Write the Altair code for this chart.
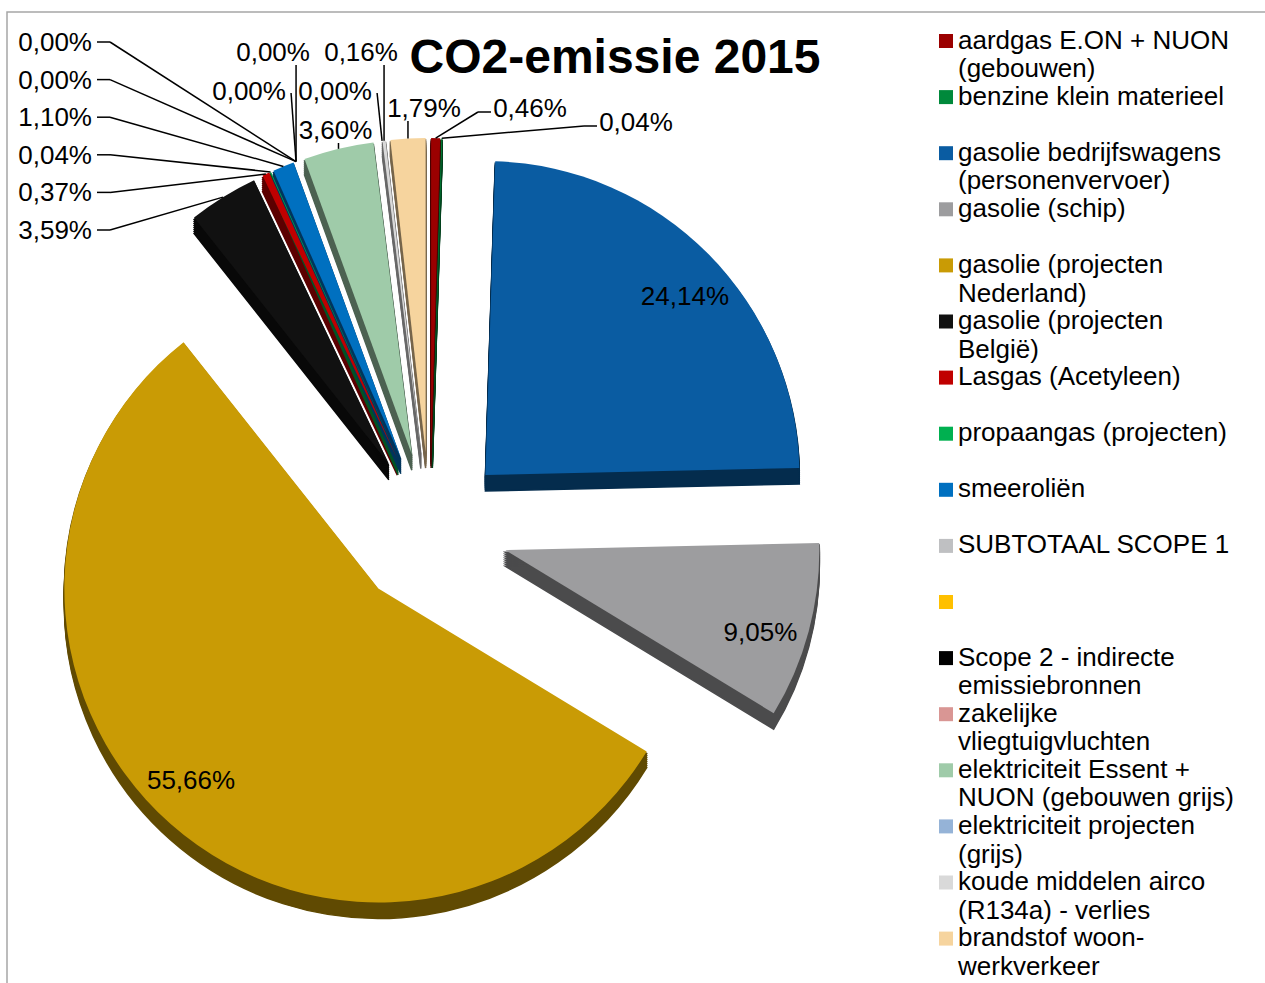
import math
import altair as alt
import pandas as pd

# ---------------- data ----------------
categories = [
    "aardgas E.ON + NUON\n(gebouwen)",
    "benzine klein materieel",
    "gasolie bedrijfswagens\n(personenvervoer)",
    "gasolie (schip)",
    "gasolie (projecten\nNederland)",
    "gasolie (projecten\nBelgië)",
    "Lasgas (Acetyleen)",
    "propaangas (projecten)",
    "smeeroliën",
    "SUBTOTAAL SCOPE 1",
    "",
    "Scope 2 - indirecte\nemissiebronnen",
    "zakelijke\nvliegtuigvluchten",
    "elektriciteit Essent +\nNUON (gebouwen grijs)",
    "elektriciteit projecten\n(grijs)",
    "koude middelen airco\n(R134a) - verlies",
    "brandstof woon-\nwerkverkeer",
]
shares = [0.46, 0.04, 24.14, 9.05, 55.66, 3.59, 0.37, 0.04, 1.10,
          0.00, 0.00, 0.00, 0.00, 3.60, 0.00, 0.16, 1.79]
palette = ["#9B0000", "#00893B", "#0A5CA2", "#9D9D9F", "#C99B05", "#111111",
           "#C00000", "#00B050", "#0070C0", "#BFC0C2", "#FFC000", "#000000",
           "#D99694", "#9FCBA9", "#95B3D7", "#D9D9D9", "#F6D49E"]
title_text = "CO2-emissie 2015"

# ---------------- layout / style ----------------
FONT = "Liberation Sans"
CX, CY = 430, 530      # pie centre (px)
D, R = 78, 314         # explosion distance, radius
DEPTH = 16             # 3-D thickness


def darker(h, f=0.48):
    r, g, b = (int(h[i:i + 2], 16) for i in (1, 3, 5))
    return "#{:02x}{:02x}{:02x}".format(int(r * f), int(g * f), int(b * f))


df = pd.DataFrame({
    "idx": list(range(len(categories))),
    "name": categories,
    "value": shares,
    "fill": palette,
    "dark": [darker(c) for c in palette],
})

base = alt.Chart(df).transform_window(
    cum="sum(value)", sort=[alt.SortField("idx")], frame=[None, 0]
).transform_calculate(
    start="datum.cum - datum.value",
    mid="(datum.cum - datum.value / 2) / 100 * 2 * PI",
    cx=f"{CX} + {D} * sin(datum.mid)",
    cy=f"{CY} - {D} * cos(datum.mid)",
    tx=f"{CX} + {D + R} * sin(datum.mid)",
    ty=f"{CY} - {D + R} * cos(datum.mid)",
    pct="replace(format(datum.value, '.2f'), '.', ',') + '%'",
)

TH = alt.Theta("start:Q", scale=alt.Scale(domain=[0, 100], range=[0, 2 * math.pi]))
TH2 = alt.Theta2("cum:Q")
XC = alt.X("cx:Q", scale=None, axis=None)

# 3-D side (stacked darker copies)
sides = []
for k in range(2, DEPTH + 1, 2):
    sides.append(
        base.transform_filter("datum.value > 0")
        .transform_calculate(cys=f"datum.cy + {k}")
        .mark_arc(outerRadius=R, strokeWidth=1.5)
        .encode(theta=TH, theta2=TH2, x=XC,
                y=alt.Y("cys:Q", scale=None, axis=None),
                fill=alt.Fill("dark:N", scale=None),
                stroke=alt.Stroke("dark:N", scale=None))
    )

tops = base.transform_filter("datum.value > 0").mark_arc(outerRadius=R).encode(
    theta=TH, theta2=TH2, x=XC,
    y=alt.Y("cy:Q", scale=None, axis=None),
    fill=alt.Fill("fill:N", scale=None),
)

# labels inside the big slices
big = base.transform_filter("datum.value >= 5").transform_calculate(
    lx="datum.cx + 268 * sin(datum.mid + 0.05)",
    ly="datum.cy - 268 * cos(datum.mid + 0.05) + 9",
).mark_text(font=FONT, fontSize=26, color="black", baseline="alphabetic").encode(
    x=alt.X("lx:Q", scale=None, axis=None),
    y=alt.Y("ly:Q", scale=None, axis=None),
    text="pct:N",
)

# labels for the small slices
small = base.transform_filter("datum.value < 5").transform_calculate(
    ord="datum.idx < 2 ? datum.idx + 100 : datum.idx"
).transform_window(
    rn="row_number()", sort=[alt.SortField("ord")]
).transform_calculate(
    r="datum.rn - 1",
    grp="datum.r < 6 ? 0 : (datum.r < 11 ? 1 : 2)",
    row="2 - abs(datum.r - 8)",
    k="datum.r - 11",
    lx=f"datum.grp == 0 ? 92 : (datum.grp == 1 ? datum.tx - (datum.row == 0 ? 23 : (datum.row == 1 ? 47 : 3)) : {CX - 6} + 106 * datum.k)",
    ly="datum.grp == 0 ? 230 - 37.6 * datum.r : (datum.grp == 1 ? 52 + 39 * datum.row : 108 + 14 * floor(datum.k / 2))",
    ax="datum.grp == 0 ? 97 : (datum.grp == 1 ? (datum.row == 1 ? datum.tx - 5 : datum.tx) : (datum.k == 0 ? datum.tx : datum.lx - 39))",
    ay="datum.grp == 0 ? datum.ly : (datum.grp == 1 ? (datum.row == 1 ? datum.ly + 2 : datum.ly + 13) : (datum.k == 0 ? datum.ly + 13 : datum.ly + 4))",
    bx="datum.grp == 0 ? 110 : ((datum.grp == 2 && datum.k > 0) ? datum.lx - 52 : datum.ax)",
    lyb="datum.ly + 9",
)

txt_enc = dict(
    x=alt.X("lx:Q", scale=None, axis=None),
    y=alt.Y("lyb:Q", scale=None, axis=None),
    text="pct:N",
)
small_left = small.transform_filter("datum.grp == 0").mark_text(
    font=FONT, fontSize=26, color="black", align="right", baseline="alphabetic"
).encode(**txt_enc)
small_top = small.transform_filter("datum.grp > 0").mark_text(
    font=FONT, fontSize=26, color="black", align="center", baseline="alphabetic"
).encode(**txt_enc)

seg1 = small.mark_rule(color="black", strokeWidth=1.5).encode(
    x=alt.X("ax:Q", scale=None, axis=None), y=alt.Y("ay:Q", scale=None, axis=None),
    x2="bx:Q", y2="ay:Q",
)
seg2 = small.mark_rule(color="black", strokeWidth=1.5).encode(
    x=alt.X("bx:Q", scale=None, axis=None), y=alt.Y("ay:Q", scale=None, axis=None),
    x2="tx:Q", y2="ty:Q",
)

# title
title = alt.Chart(pd.DataFrame({"t": [title_text]})).mark_text(
    font=FONT, fontSize=48, fontWeight="bold", color="black",
    align="center", baseline="alphabetic"
).encode(x=alt.value(615), y=alt.value(73), text="t:N")

# chart-area border
border = alt.Chart(pd.DataFrame({"a": [0]})).mark_rect(
    fillOpacity=0, stroke="#A6A6A6", strokeWidth=1.5
).encode(x=alt.value(7), x2=alt.value(1290), y=alt.value(12), y2=alt.value(1010))

# legend
leg = alt.Chart(df).transform_calculate(
    sy="41 + 56.1 * datum.idx",
    ty2="48.5 + 56.1 * datum.idx",
)
leg_sq = leg.mark_square(size=196, opacity=1).encode(
    x=alt.value(946),
    y=alt.Y("sy:Q", scale=None, axis=None),
    fill=alt.Fill("fill:N", scale=None),
)
leg_txt = leg.mark_text(
    font=FONT, fontSize=26, color="black", align="left", baseline="alphabetic",
    lineBreak="\n", lineHeight=28.7
).encode(
    x=alt.value(958),
    y=alt.Y("ty2:Q", scale=None, axis=None),
    text="name:N",
)

chart = alt.layer(
    border, *sides, tops, big, seg1, seg2, small_left, small_top, title, leg_sq, leg_txt
).properties(
    width=1265, height=983, autosize="none", padding=0, background="white"
).configure_view(stroke=None)

chart.save("out.html", embed_options={"renderer": "svg", "actions": False})
